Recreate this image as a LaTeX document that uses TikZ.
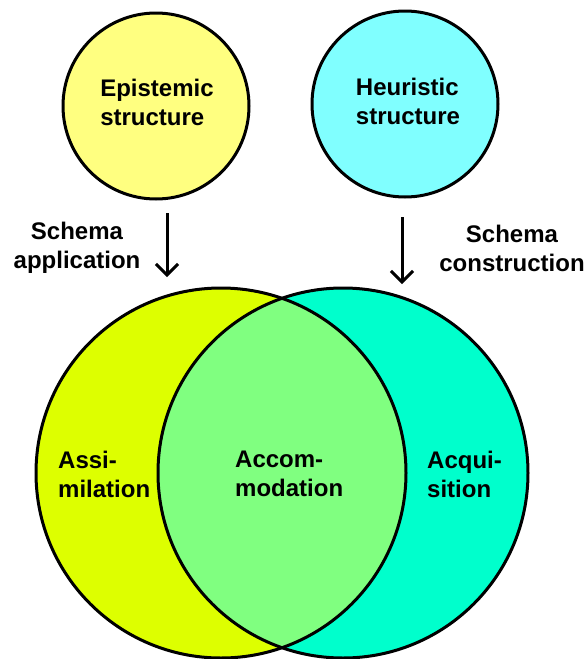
\documentclass[tikz,border=0pt]{standalone}
\usepackage{fontspec}
\setmainfont{Liberation Sans}
\usetikzlibrary{arrows.meta}
\definecolor{epiyel}{RGB}{255,255,128}
\definecolor{heucyan}{RGB}{128,255,255}
\definecolor{assimcol}{RGB}{221,255,0}
\definecolor{acquicol}{RGB}{0,255,204}
\definecolor{accomcol}{RGB}{128,255,128}
\begin{document}
\begin{tikzpicture}[x=1pt,y=-1pt,
  lbl/.style={inner sep=0pt, align=left, font=\fontsize{24}{29}\selectfont\bfseries},
  clbl/.style={lbl, align=center},
  outline/.style={draw=black, line width=3pt},
  topcirc/.style={circle, outline, minimum size=186pt, inner sep=0pt},
  flow/.style={line width=3pt, -{Straight Barb[length=11pt,width=22pt]}}]
\useasboundingbox (0,0) rectangle (587,659);
% big overlapping circles
\coordinate (lc) at (221,473);
\coordinate (rc) at (343,473);
\fill[assimcol] (lc) circle[radius=185pt];
\fill[acquicol] (rc) circle[radius=185pt];
\begin{scope}
  \clip (lc) circle[radius=185pt];
  \fill[accomcol] (rc) circle[radius=185pt];
\end{scope}
\draw[outline] (lc) circle[radius=185pt];
\draw[outline] (rc) circle[radius=185pt];
% top circles
\node[topcirc, fill=epiyel] (epi) at (156,106) {};
\node[topcirc, fill=heucyan] (heu) at (405,104) {};
\node[lbl] (epit) at (157,102) {Epistemic\\structure};
\node[lbl] (heut) at (408,101) {Heuristic\\structure};
% arrows
\coordinate (a1s) at (167,213);
\coordinate (a1e) at (167,277);
\coordinate (a2s) at (402,217);
\coordinate (a2e) at (402,284);
\draw[flow] (a1s) -- (a1e);
\draw[flow] (a2s) -- (a2e);
\node[clbl] (app) at (77,248) {Schema\\application};
\node[clbl] (con) at (512,248) {Schema\\construction};
% region labels
\node[lbl, anchor=west] (assim) at (58,474) {Assi-\\milation};
\node[lbl, anchor=west] (accom) at (235,474) {Accom-\\modation};
\node[lbl, anchor=west] (acqui) at (427,474) {Acqui-\\sition};
\end{tikzpicture}
\end{document}
